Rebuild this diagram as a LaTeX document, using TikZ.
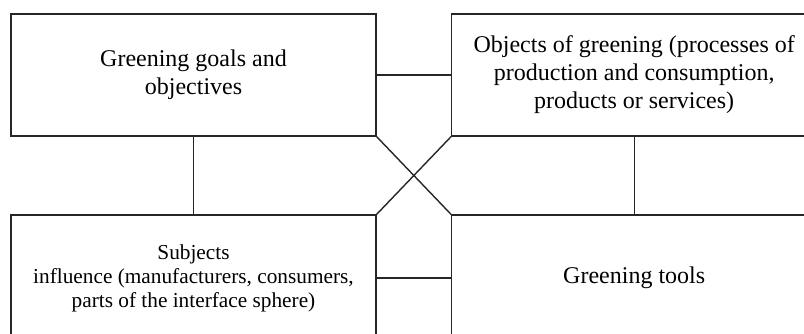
\documentclass[tikz,border=0pt]{standalone}
\usepackage{fontspec}
\setmainfont{Liberation Serif}
\begin{document}
\begin{tikzpicture}[x=1pt,y=-1pt,
  box/.style={draw=black!85,line width=1.4pt,fill=white,minimum width=365pt,inner sep=0pt,align=center},
  topbox/.style={box,minimum height=122pt,font=\fontsize{24}{28}\selectfont},
  botbox/.style={box,minimum height=126pt},
  link/.style={draw=black!85,line width=1.4pt}]
\useasboundingbox (0,0) rectangle (804,334);
\clip (0,0) rectangle (804,334);
\fill[white] (0,0) rectangle (804,334);
% boxes
\node[topbox] (tl) at (193.5,75) {Greening goals and\\objectives};
\node[topbox] (tr) at (634.2,75) {Objects of greening (processes of\\production and consumption,\\products or services)};
\node[botbox,font=\fontsize{21.3}{24}\selectfont] (bl) at (193.5,278) {Subjects\\influence (manufacturers, consumers,\\parts of the interface sphere)};
\node[botbox,font=\fontsize{24}{28}\selectfont] (br) at (634.2,278) {Greening tools};
% connectors
\draw[link] (tl.east) -- (tr.west);
\draw[link] (bl.east) -- (br.west);
\draw[link] (tl.south) -- (bl.north);
\draw[link] (tr.south) -- (br.north);
\draw[link] (tl.south east) -- (br.north west);
\draw[link] (tr.south west) -- (bl.north east);
\end{tikzpicture}
\end{document}
